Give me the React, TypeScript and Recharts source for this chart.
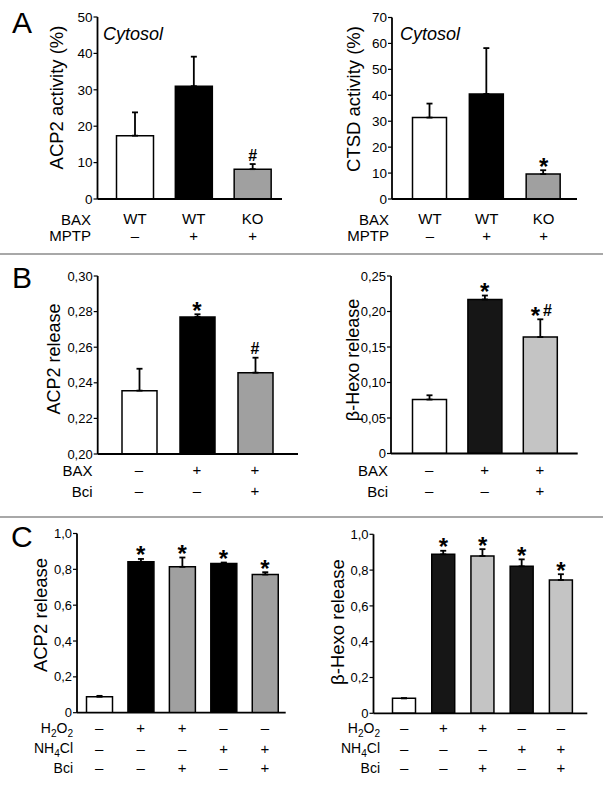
import React from 'react';
import { BarChart, Bar, XAxis, YAxis, ErrorBar, Cell, ReferenceDot } from 'recharts';

const FONT = '"Liberation Sans", Arial, Helvetica, sans-serif';
const W = 603;
const H = 786;

// ---------- Panel A ----------
const aCategories = ['WT / –', 'WT / +', 'KO / +'];
const aRowHeaders = ['BAX', 'MPTP'];
const aRowBAX = ['WT', 'WT', 'KO'];
const aRowMPTP = ['–', '+', '+'];
const acp2ActivityValues = [17.4, 31.0, 8.2];
const acp2ActivityErrors = [6.4, 8.1, 1.4];
const acp2ActivityMarks = ['', '', '#'];
const acp2ActivityTicks = [0, 10, 20, 30, 40, 50];
const ctsdActivityValues = [31.4, 40.5, 9.6];
const ctsdActivityErrors = [5.4, 17.7, 1.5];
const ctsdActivityMarks = ['', '', '*'];
const ctsdActivityTicks = [0, 10, 20, 30, 40, 50, 60, 70];

// ---------- Panel B ----------
const bCategories = ['– / –', '+ / –', '+ / +'];
const bRowHeaders = ['BAX', 'Bci'];
const bRowBAX = ['–', '+', '+'];
const bRowBci = ['–', '–', '+'];
const bAcp2Values = [0.2356, 0.277, 0.2457];
const bAcp2Errors = [0.0123, 0.0015, 0.0084];
const bAcp2Marks = ['', '*', '#'];
const bAcp2Ticks = [0.2, 0.22, 0.24, 0.26, 0.28, 0.3];
const bHexoValues = [0.076, 0.217, 0.164];
const bHexoErrors = [0.006, 0.0055, 0.025];
const bHexoMarks = ['', '*', '*#'];
const bHexoTicks = [0, 0.05, 0.1, 0.15, 0.2, 0.25];

// ---------- Panel C ----------
const cCategories = ['ctrl', 'H2O2', 'H2O2 + Bci', 'NH4Cl', 'NH4Cl + Bci'];
const cRowHeaders = ['H2O2', 'NH4Cl', 'Bci'];
const cRowH2O2 = ['–', '+', '+', '–', '–'];
const cRowNH4Cl = ['–', '–', '–', '+', '+'];
const cRowBci = ['–', '–', '+', '–', '+'];
const cAcp2Values = [0.089, 0.842, 0.814, 0.833, 0.771];
const cAcp2Errors = [0.005, 0.016, 0.052, 0.005, 0.013];
const cAcp2Marks = ['', '*', '*', '*', '*'];
const cHexoValues = [0.084, 0.888, 0.879, 0.821, 0.745];
const cHexoErrors = [0, 0.02, 0.038, 0.039, 0.032];
const cHexoMarks = ['', '*', '*', '*', '*'];
const cTicks = [0, 0.2, 0.4, 0.6, 0.8, 1.0];

// ---------- styles ----------
const aColors = ['#ffffff', '#000000', '#a0a0a0'];
const bLeftColors = ['#ffffff', '#000000', '#a0a0a0'];
const bRightColors = ['#ffffff', '#161616', '#c4c4c4'];
const cLeftColors = ['#ffffff', '#000000', '#a0a0a0', '#000000', '#a0a0a0'];
const cRightColors = ['#ffffff', '#161616', '#c4c4c4', '#161616', '#c4c4c4'];

const fmtInt = (v: number) => String(v);
const fmt2 = (v: number) => v.toFixed(2).replace('.', ',');
const fmtHexo = (v: number) => (v === 0 ? '0' : v.toFixed(2).replace('.', ','));
const fmt1 = (v: number) => (v === 0 ? '0' : v.toFixed(1).replace('.', ','));

function chem(label: string, fs: number) {
  const parts: React.ReactNode[] = [];
  let sub = false;
  label.split('').forEach((ch, i) => {
    const isDigit = /[0-9]/.test(ch);
    if (isDigit && !sub) {
      parts.push(<tspan key={i} dy={5} fontSize={fs * 0.72}>{ch}</tspan>);
      sub = true;
    } else if (!isDigit && sub) {
      parts.push(<tspan key={i} dy={-5}>{ch}</tspan>);
      sub = false;
    } else {
      parts.push(<tspan key={i} fontSize={isDigit ? fs * 0.72 : undefined}>{ch}</tspan>);
    }
  });
  return parts;
}

function Annot({ cx, cy, text }: { cx: number; cy: number; text: string }) {
  const chars = text.split('');
  const n = chars.length;
  return (
    <g>
      {chars.map((ch, i) => {
        const off = n === 1 ? 0 : i === 0 ? -4.5 : 7.5;
        const isStar = ch === '*';
        const fs = isStar ? 24 : 16;
        const y = isStar ? cy + 4.5 : cy - 3.5;
        return (
          <text key={i} x={cx + off} y={y} textAnchor="middle" fontFamily={FONT} fontWeight="bold" fontSize={fs} fill="#000">
            {ch}
          </text>
        );
      })}
    </g>
  );
}

type PanelProps = {
  frame: { L: number; R: number; T: number; B: number };
  cats: string[];
  values: number[];
  errors: number[];
  marks: string[];
  colors: string[];
  domain: [number, number];
  ticks: number[];
  fmt: (v: number) => string;
  tickFont: number;
  barSize: number;
  padL: number;
  padR: number;
  rows: string[][];
  rowYs: number[];
  rowFont: number;
};

function Panel(p: PanelProps) {
  const data = p.cats.map((c, i) => ({ name: c, v: p.values[i], e: [0, p.errors[i]] }));
  const YW = 40;
  const XH = 60;
  const margin = { top: p.frame.T, left: p.frame.L - YW, right: W - p.frame.R, bottom: H - p.frame.B - XH };
  const line = { stroke: '#000', strokeWidth: 1.8 };
  const renderTick = (tp: any) => {
    const idx = p.cats.indexOf(tp.payload.value);
    return (
      <g>
        {p.rows.map((r, ri) => (
          <text key={ri} x={tp.x} y={p.rowYs[ri]} textAnchor="middle" dominantBaseline="central" fontFamily={FONT} fontSize={p.rowFont} fill="#000">
            {r[idx]}
          </text>
        ))}
      </g>
    );
  };
  return (
    <div style={{ position: 'absolute', left: 0, top: 0, width: W, height: H }}>
      <BarChart width={W} height={H} data={data} margin={margin}>
        <XAxis dataKey="name" height={XH} interval={0} tickLine={false} axisLine={line} padding={{ left: p.padL, right: p.padR }} tick={renderTick} />
        <XAxis xAxisId="top" orientation="top" dataKey="name" height={0} tick={false} tickLine={false} axisLine={line} padding={{ left: p.padL, right: p.padR }} />
        <YAxis
          width={YW}
          type="number"
          domain={p.domain}
          ticks={p.ticks}
          interval={0}
          allowDataOverflow
          tickFormatter={p.fmt}
          tickSize={4}
          tickMargin={1}
          tickLine={{ stroke: '#000', strokeWidth: 1.2 }}
          axisLine={line}
          tick={{ fill: '#000', fontSize: p.tickFont, fontFamily: FONT }}
        />
        <YAxis yAxisId="right" orientation="right" width={0} tick={false} tickLine={false} axisLine={line} />
        <Bar dataKey="v" barSize={p.barSize} stroke="#000" strokeWidth={1.5} isAnimationActive={false}>
          {data.map((d, i) => (
            <Cell key={i} fill={p.colors[i]} />
          ))}
          <ErrorBar dataKey="e" direction="y" width={3} strokeWidth={1.8} stroke="#000" isAnimationActive={false} />
        </Bar>
        {p.marks.map((m, i) =>
          m ? (
            <ReferenceDot
              key={i}
              x={p.cats[i]}
              y={p.values[i] + p.errors[i]}
              r={0}
              ifOverflow="visible"
              shape={(sp: any) => <Annot cx={sp.cx} cy={sp.cy} text={m} />}
            />
          ) : null
        )}
      </BarChart>
    </div>
  );
}

function YLabel({ x, y, text, size }: { x: number; y: number; text: string; size: number }) {
  return (
    <text transform={`translate(${x},${y}) rotate(-90)`} textAnchor="middle" fontFamily={FONT} fontSize={size} fill="#000">
      {text}
    </text>
  );
}

function RowHeaders({ x, ys, labels, size }: { x: number; ys: number[]; labels: string[]; size: number }) {
  return (
    <g>
      {labels.map((l, i) => (
        <text key={i} x={x} y={ys[i]} textAnchor="end" dominantBaseline="central" fontFamily={FONT} fontSize={size} fill="#000">
          {chem(l, size)}
        </text>
      ))}
    </g>
  );
}

export default function App() {
  const aRowYs = [218.5, 235];
  const bRowYs = [469.5, 490.5];
  const cRowYs = [727.5, 748, 767.5];
  return (
    <div style={{ position: 'absolute', left: 0, top: 0, width: W, height: H, background: '#fff', overflow: 'hidden' }}>
      <svg width={W} height={H} style={{ position: 'absolute', left: 0, top: 0 }}>
        <rect x={0} y={253} width={W} height={2} fill="#a8a8a8" />
        <rect x={0} y={516} width={W} height={2} fill="#a8a8a8" />
        <text x={12} y={33} fontFamily={FONT} fontSize={30} fill="#000">A</text>
        <text x={12} y={288} fontFamily={FONT} fontSize={30} fill="#000">B</text>
        <text x={11} y={546.5} fontFamily={FONT} fontSize={30} fill="#000">C</text>
        <text x={103} y={39.5} fontFamily={FONT} fontStyle="italic" fontSize={18} fill="#000">Cytosol</text>
        <text x={400} y={39.5} fontFamily={FONT} fontStyle="italic" fontSize={18} fill="#000">Cytosol</text>
        <YLabel x={62.5} y={97.5} text="ACP2 activity (%)" size={18.5} />
        <YLabel x={360} y={99} text="CTSD activity (%)" size={18.5} />
        <YLabel x={60} y={359} text="ACP2 release" size={18} />
        <YLabel x={359} y={360} text="β-Hexo release" size={18} />
        <YLabel x={46.5} y={615} text="ACP2 release" size={18.5} />
        <YLabel x={344} y={622} text="β-Hexo release" size={18.5} />
        <RowHeaders x={91} ys={aRowYs} labels={aRowHeaders} size={15} />
        <RowHeaders x={389} ys={aRowYs} labels={aRowHeaders} size={15} />
        <RowHeaders x={92.5} ys={bRowYs} labels={bRowHeaders} size={15} />
        <RowHeaders x={388} ys={bRowYs} labels={bRowHeaders} size={15} />
        <RowHeaders x={73} ys={cRowYs} labels={cRowHeaders} size={14} />
        <RowHeaders x={380} ys={cRowYs} labels={cRowHeaders} size={14} />
      </svg>

      <Panel frame={{ L: 97.5, R: 282, T: 17, B: 199 }} cats={aCategories} values={acp2ActivityValues} errors={acp2ActivityErrors} marks={acp2ActivityMarks}
        colors={aColors} domain={[0, 50]} ticks={acp2ActivityTicks} fmt={fmtInt} tickFont={13.5} barSize={37} padL={8} padR={0}
        rows={[aRowBAX, aRowMPTP]} rowYs={aRowYs} rowFont={15} />
      <Panel frame={{ L: 392, R: 577, T: 17.5, B: 199 }} cats={aCategories} values={ctsdActivityValues} errors={ctsdActivityErrors} marks={ctsdActivityMarks}
        colors={aColors} domain={[0, 70]} ticks={ctsdActivityTicks} fmt={fmtInt} tickFont={13.5} barSize={34} padL={9.5} padR={5}
        rows={[aRowBAX, aRowMPTP]} rowYs={aRowYs} rowFont={15} />

      <Panel frame={{ L: 97.7, R: 298, T: 276, B: 454 }} cats={bCategories} values={bAcp2Values} errors={bAcp2Errors} marks={bAcp2Marks}
        colors={bLeftColors} domain={[0.2, 0.3]} ticks={bAcp2Ticks} fmt={fmt2} tickFont={13} barSize={35} padL={12.3} padR={14}
        rows={[bRowBAX, bRowBci]} rowYs={bRowYs} rowFont={15} />
      <Panel frame={{ L: 391, R: 577.7, T: 276, B: 453.5 }} cats={bCategories} values={bHexoValues} errors={bHexoErrors} marks={bHexoMarks}
        colors={bRightColors} domain={[0, 0.25]} ticks={bHexoTicks} fmt={fmtHexo} tickFont={13} barSize={34} padL={10.5} padR={10}
        rows={[bRowBAX, bRowBci]} rowYs={bRowYs} rowFont={15} />

      <Panel frame={{ L: 77, R: 285.7, T: 533.5, B: 712.7 }} cats={cCategories} values={cAcp2Values} errors={cAcp2Errors} marks={cAcp2Marks}
        colors={cLeftColors} domain={[0, 1]} ticks={cTicks} fmt={fmt1} tickFont={13} barSize={26} padL={1.5} padR={0}
        rows={[cRowH2O2, cRowNH4Cl, cRowBci]} rowYs={cRowYs} rowFont={15} />
      <Panel frame={{ L: 373.5, R: 587.3, T: 534.3, B: 713.3 }} cats={cCategories} values={cHexoValues} errors={cHexoErrors} marks={cHexoMarks}
        colors={cRightColors} domain={[0, 1]} ticks={cTicks} fmt={fmt1} tickFont={13} barSize={23} padL={11} padR={6.7}
        rows={[cRowH2O2, cRowNH4Cl, cRowBci]} rowYs={cRowYs} rowFont={15} />
    </div>
  );
}
